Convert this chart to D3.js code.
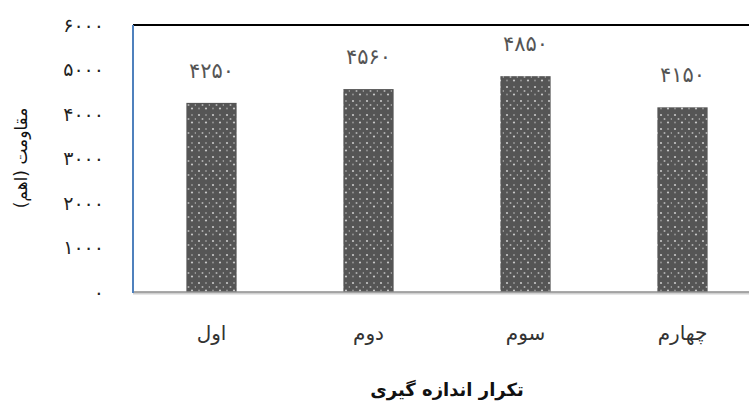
<!DOCTYPE html>
<html>
<head>
  <meta charset="UTF-8">
  <style>
    body { margin: 0; background: #fff; }
    svg { display: block; font-family: "DejaVu Sans", sans-serif; }
  </style>
</head>
<body>
<svg></svg>
<script src="https://d3js.org/d3.v7.min.js"></script>
<script>

let width = 749, height = 407;

// data
let categories = ["اول", "دوم", "سوم", "چهارم"];
let values = [4250, 4560, 4850, 4150];
let valueLabels = ["۴۲۵۰", "۴۵۶۰", "۴۸۵۰", "۴۱۵۰"];
let yTicks = [0, 1000, 2000, 3000, 4000, 5000, 6000];
let yTickLabels = ["۰", "۱۰۰۰", "۲۰۰۰", "۳۰۰۰", "۴۰۰۰", "۵۰۰۰", "۶۰۰۰"];
let yTitle = "مقاومت (اهم)";
let xTitle = "تکرار اندازه گیری";

let svg = d3.select("svg")
    .attr("width", width)
    .attr("height", height);

let plotLeft = 133, plotRight = 761, plotTop = 25, plotBottom = 292;

let x = d3.scaleBand()
    .domain(categories)
    .range([plotLeft, plotRight])
    .paddingInner(0.68)
    .paddingOuter(0.34);

let y = d3.scaleLinear()
    .domain([0, 6000])
    .range([plotBottom, plotTop]);

// dotted fill for the bars
let defs = svg.append("defs");
let pat = defs.append("pattern")
    .attr("id", "dots")
    .attr("patternUnits", "userSpaceOnUse")
    .attr("width", 14)
    .attr("height", 14);
pat.append("rect").attr("width", 14).attr("height", 14).attr("fill", "#555");
[[3, 3, 1.1, "#c8c8c8"], [10, 3, 0.9, "#999"], [6.5, 7, 1.0, "#b0b0b0"], [13.5, 7, 0.9, "#9a9a9a"],
 [3, 10.5, 0.9, "#999"], [10, 10.5, 1.1, "#c8c8c8"]].forEach(d => {
    pat.append("circle").attr("cx", d[0]).attr("cy", d[1]).attr("r", d[2]).attr("fill", d[3]);
});

// frame
svg.append("line")
    .attr("x1", plotLeft).attr("x2", width)
    .attr("y1", plotTop).attr("y2", plotTop)
    .attr("stroke", "#000").attr("stroke-width", 2);

svg.append("line")
    .attr("x1", plotLeft).attr("x2", width)
    .attr("y1", plotBottom + 1.5).attr("y2", plotBottom + 1.5)
    .attr("stroke", "#d0d0d0").attr("stroke-width", 2);

// bars
svg.append("g")
    .selectAll("rect")
    .data(values)
    .enter()
        .append("rect")
        .attr("x", (d, i) => x(categories[i]))
        .attr("width", x.bandwidth())
        .attr("y", d => y(d))
        .attr("height", d => y(0) - y(d))
        .attr("fill", "url(#dots)");

svg.append("line")
    .attr("x1", plotLeft).attr("x2", width)
    .attr("y1", plotBottom).attr("y2", plotBottom)
    .attr("stroke", "#8c8c8c").attr("stroke-width", 1.5);

svg.append("line")
    .attr("x1", plotLeft).attr("x2", plotLeft)
    .attr("y1", plotTop).attr("y2", plotBottom + 1)
    .attr("stroke", "#4f81bd").attr("stroke-width", 2);

// value labels
svg.append("g")
    .selectAll("text")
    .data(values)
    .enter()
        .append("text")
        .attr("x", (d, i) => x(categories[i]) + x.bandwidth() / 2)
        .attr("y", d => y(d) - 25)
        .attr("text-anchor", "middle")
        .attr("font-size", 21)
        .attr("letter-spacing", 2)
        .attr("fill", "#555")
        .text((d, i) => valueLabels[i]);

// y axis
let yAxis = d3.axisLeft(y)
    .tickValues(yTicks)
    .tickSize(0)
    .tickPadding(0)
    .tickFormat((d, i) => yTickLabels[i]);

let ya = svg.append("g")
    .attr("transform", "translate(104,0)")
    .call(yAxis);
ya.select(".domain").remove();
ya.selectAll("text")
    .attr("font-size", 19)
    .attr("letter-spacing", 3)
    .attr("fill", "#222")
    .attr("font-family", "DejaVu Sans");

// x axis labels
let xAxis = d3.axisBottom(x).tickSize(0).tickPadding(0);
let xa = svg.append("g")
    .attr("transform", "translate(0,326)")
    .call(xAxis);
xa.select(".domain").remove();
xa.selectAll("text")
    .attr("font-size", 20)
    .attr("fill", "#333")
    .attr("font-family", "DejaVu Sans");

// titles
svg.append("text")
    .attr("x", (plotLeft + plotRight) / 2)
    .attr("y", 396)
    .attr("text-anchor", "middle")
    .attr("font-size", 18)
    .attr("font-weight", "bold")
    .attr("fill", "#111")
    .text(xTitle);

svg.append("text")
    .attr("transform", "translate(27,158) rotate(-90)")
    .attr("text-anchor", "middle")
    .attr("font-size", 17)
    .attr("fill", "#111")
    .text(yTitle);

</script>
</body>
</html>
